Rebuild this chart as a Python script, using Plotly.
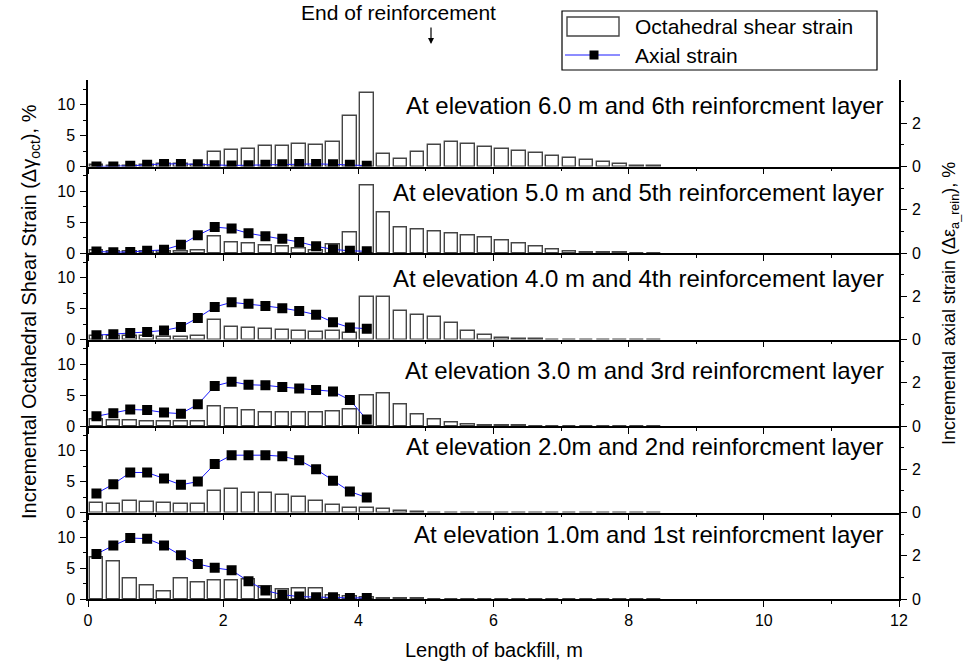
import plotly.graph_objects as go

# Bar positions along the backfill (m) and the reinforcement gauge positions
x_pos = [0.125, 0.375, 0.625, 0.875, 1.125, 1.375, 1.625, 1.875, 2.125, 2.375,
         2.625, 2.875, 3.125, 3.375, 3.625, 3.875, 4.125, 4.375, 4.625, 4.875,
         5.125, 5.375, 5.625, 5.875, 6.125, 6.375, 6.625, 6.875, 7.125, 7.375,
         7.625, 7.875, 8.125, 8.375]
x_axial = [0.125, 0.375, 0.625, 0.875, 1.125, 1.375, 1.625, 1.875, 2.125, 2.375,
           2.625, 2.875, 3.125, 3.375, 3.625, 3.875, 4.125]

# Incremental octahedral shear strain (%) per elevation
shear_6m = [0.2, 0.1, 0.15, 0.3, 0.4, 0.4, 0.3, 2.4, 2.7, 2.9, 3.35, 3.35, 3.6, 3.45, 4.0, 8.1,
            11.9, 2.05, 1.2, 2.3, 3.5, 4.0, 3.7, 3.2, 2.85, 2.55, 2.2, 1.75, 1.4, 1.1, 0.75, 0.45,
            0.15, 0.05]
shear_5m = [0.4, 0.2, 0.25, 0.3, 0.3, 0.3, 0.45, 2.6, 1.7, 1.5, 1.15, 1.05, 0.75, 0.35, 1.3, 3.25,
            10.9, 6.55, 4.05, 3.8, 3.5, 3.15, 2.8, 2.45, 2.0, 1.5, 1.0, 0.55, 0.3, 0.15, 0.05, 0.02,
            0.0, 0.0]
shear_4m = [0.6, 0.5, 0.5, 0.5, 0.45, 0.4, 0.6, 3.2, 2.1, 1.9, 1.7, 1.5, 1.3, 1.2, 1.3, 1.1,
            6.8, 6.8, 4.6, 4.0, 3.6, 2.6, 1.4, 0.8, 0.3, 0.1, 0.05, 0.0, 0.0, 0.0, 0.0, 0.0,
            0.0, 0.0]
shear_3m = [1.0, 0.85, 0.85, 0.75, 0.65, 0.65, 0.7, 3.2, 2.9, 2.5, 2.2, 2.15, 2.15, 2.15, 2.3, 2.65,
            5.0, 5.25, 3.4, 1.85, 1.0, 0.5, 0.2, 0.1, 0.05, 0.03, 0.0, 0.0, 0.0, 0.0, 0.0, 0.0,
            0.0, 0.0]
shear_2m = [1.5, 1.4, 1.85, 1.75, 1.5, 1.4, 1.35, 3.45, 3.85, 3.1, 3.1, 2.8, 2.45, 1.85, 1.25, 0.7,
            0.65, 0.55, 0.2, 0.05, 0.0, 0.0, 0.0, 0.0, 0.0, 0.0, 0.0, 0.0, 0.0, 0.0, 0.0, 0.0,
            0.0, 0.0]
shear_1m = [6.65, 6.1, 3.3, 2.2, 1.25, 3.25, 2.6, 3.0, 3.0, 3.2, 2.05, 1.5, 1.7, 1.7, 0.6, 0.4,
            0.3, 0.1, 0.05, 0.03, 0.0, 0.0, 0.0, 0.0, 0.0, 0.0, 0.0, 0.0, 0.0, 0.0, 0.0, 0.0,
            0.0, 0.0]

# Incremental axial strain in the reinforcement (%)
axial_6m = [0.0, 0.0, 0.03, 0.08, 0.12, 0.12, 0.1, 0.06, 0.05, 0.06, 0.08, 0.1, 0.12, 0.12, 0.1, 0.08, 0.04]
axial_5m = [0.07, 0.04, 0.05, 0.1, 0.15, 0.38, 0.82, 1.2, 1.13, 0.91, 0.77, 0.66, 0.51, 0.31, 0.17, 0.1, 0.08]
axial_4m = [0.2, 0.24, 0.3, 0.35, 0.42, 0.58, 1.0, 1.5, 1.72, 1.65, 1.55, 1.45, 1.32, 1.15, 0.8, 0.55, 0.5]
axial_3m = [0.45, 0.59, 0.76, 0.74, 0.62, 0.57, 1.0, 1.85, 2.05, 1.91, 1.88, 1.8, 1.73, 1.67, 1.6, 1.2, 0.3]
axial_2m = [0.88, 1.31, 1.85, 1.85, 1.57, 1.28, 1.43, 2.24, 2.65, 2.65, 2.65, 2.6, 2.42, 2.0, 1.47, 0.97, 0.69]
axial_1m = [2.08, 2.47, 2.82, 2.79, 2.47, 2.02, 1.62, 1.44, 1.33, 0.82, 0.39, 0.2, 0.11, 0.08, 0.08, 0.05, 0.05]

panel_titles = [
    "At elevation 6.0 m and 6th reinforcment layer",
    "At elevation 5.0 m and 5th reinforcement layer",
    "At elevation 4.0 m and 4th reinforcement layer",
    "At elevation 3.0 m and 3rd reinforcment layer",
    "At elevation 2.0m and 2nd reinforcment layer",
    "At elevation 1.0m and 1st reinforcment layer",
]
shear_sets = [shear_6m, shear_5m, shear_4m, shear_3m, shear_2m, shear_1m]
axial_sets = [axial_6m, axial_5m, axial_4m, axial_3m, axial_2m, axial_1m]

x_ticks = [0, 2, 4, 6, 8, 10, 12]
x_minor = [1, 3, 5, 7, 9, 11]
left_ticks = [0, 5, 10]
left_minor = [2.5, 7.5, 12.5]
right_ticks = [0, 2]
right_minor = [1, 3]

# ---- page geometry (pixels) ----
W, H = 971, 668
ML, MR, MT, MB = 88, 72, 80, 69
PW, PH = W - ML - MR, H - MT - MB
FONT = "Liberation Sans, Arial, sans-serif"


def px(xp):
    return (xp - ML) / PW


def py(yp):
    return (H - MB - yp) / PH


label_y = [105, 192, 278, 370, 446, 534]

fig = go.Figure()
n = len(shear_sets)
layout = dict(
    width=W, height=H,
    margin=dict(l=ML, r=MR, t=MT, b=MB, pad=0),
    paper_bgcolor="white", plot_bgcolor="white",
    showlegend=False,
    font=dict(family=FONT, size=16, color="black"),
)
annotations = []
shapes = []

for k in range(n):
    xi = "x" if k == 0 else f"x{k + 1}"
    yi = "y" if k == 0 else f"y{k + 1}"
    yr = f"y{k + 1 + n}"
    xkey = "xaxis" if k == 0 else f"xaxis{k + 1}"
    ykey = "yaxis" if k == 0 else f"yaxis{k + 1}"
    yrkey = f"yaxis{k + 1 + n}"
    dom = [1 - (k + 1) / n, 1 - k / n]

    fig.add_trace(go.Bar(
        x=x_pos, y=shear_sets[k], width=0.2, xaxis=xi, yaxis=yi,
        marker=dict(color="white", line=dict(color="#454545", width=1.4)),
    ))
    fig.add_trace(go.Scatter(
        x=x_axial, y=axial_sets[k], xaxis=xi, yaxis=yr, mode="lines+markers",
        line=dict(color="#1a1aff", width=1),
        marker=dict(symbol="square", size=10, color="black", line=dict(width=0)),
        cliponaxis=True,
    ))

    layout[xkey] = dict(
        domain=[0, 1], anchor=yi, range=[0, 12],
        showline=True, linecolor="black", linewidth=1.5,
        ticks="outside", tickvals=x_ticks, ticklen=6, tickwidth=1.2, tickcolor="black",
        minor=dict(tickvals=x_minor, ticks="outside", ticklen=3, tickwidth=1.2, tickcolor="black"),
        showticklabels=(k == n - 1), showgrid=False, zeroline=False,
        tickfont=dict(size=16), fixedrange=True,
    )
    if k > 0:
        layout[xkey]["matches"] = "x"
    layout[ykey] = dict(
        domain=dom, anchor=xi, range=[0, 14],
        showline=True, linecolor="black", linewidth=1.5,
        ticks="outside", tickvals=left_ticks, ticklen=6, tickwidth=1.2, tickcolor="black",
        minor=dict(tickvals=left_minor, ticks="outside", ticklen=3, tickwidth=1.2, tickcolor="black"),
        showgrid=False, zeroline=False, tickfont=dict(size=16), ticklabelstandoff=2,
    )
    layout[yrkey] = dict(
        overlaying=yi, anchor=xi, side="right", range=[0, 4],
        showline=True, linecolor="black", linewidth=1.5,
        ticks="outside", tickvals=right_ticks, ticklen=6, tickwidth=1.2, tickcolor="black",
        minor=dict(tickvals=right_minor, ticks="outside", ticklen=3, tickwidth=1.2, tickcolor="black"),
        showgrid=False, zeroline=False, tickfont=dict(size=16), ticklabelstandoff=2,
    )
    annotations.append(dict(
        xref="paper", yref="paper", x=px(886), y=py(label_y[k]),
        xanchor="right", yanchor="middle", showarrow=False,
        text=panel_titles[k], font=dict(size=24),
    ))

# top border of the upper panel with inward ticks
layout[f"xaxis{2 * n + 1}"] = dict(
    overlaying="x", anchor="y", side="top", range=[0, 12],
    showline=True, linecolor="black", linewidth=1.5,
    ticks="inside", tickvals=x_ticks, ticklen=6, tickwidth=1.2, tickcolor="black",
    minor=dict(tickvals=x_minor, ticks="inside", ticklen=3, tickwidth=1.2, tickcolor="black"),
    showticklabels=False, showgrid=False, zeroline=False,
)

# axis titles
annotations += [
    dict(xref="paper", yref="paper", x=px(493.5), y=py(650), showarrow=False,
         text="Length of backfill, m", font=dict(size=20), xanchor="center", yanchor="middle"),
    dict(xref="paper", yref="paper", x=px(30), y=py(312), showarrow=False, textangle=-90,
         text="Incremental Octahedral Shear Strain (Δγ<sub>oct</sub>), %", font=dict(size=20),
         xanchor="center", yanchor="middle"),
    dict(xref="paper", yref="paper", x=px(950), y=py(303), showarrow=False, textangle=-90,
         text="Incremental axial strain (Δε<sub>a_rein</sub>), %", font=dict(size=18),
         xanchor="center", yanchor="middle"),
]

# end-of-reinforcement callout
annotations += [
    dict(xref="paper", yref="paper", x=px(398), y=py(13), showarrow=False,
         text="End of reinforcement", font=dict(size=21), xanchor="center", yanchor="middle"),
    dict(xref="paper", yref="paper", x=px(431), y=py(44), ax=0, ay=-18, text="",
         showarrow=True, arrowhead=2, arrowsize=1, arrowwidth=1.2, arrowcolor="black"),
]

# legend box
shapes += [
    dict(type="rect", xref="paper", yref="paper", x0=px(562), x1=px(877), y0=py(70), y1=py(11),
         line=dict(color="black", width=1.2), fillcolor="white"),
    dict(type="rect", xref="paper", yref="paper", x0=px(567), x1=px(619), y0=py(36), y1=py(17),
         line=dict(color="#454545", width=1.4), fillcolor="white"),
    dict(type="line", xref="paper", yref="paper", x0=px(565), x1=px(620), y0=py(55), y1=py(55),
         line=dict(color="#1a1aff", width=1)),
    dict(type="rect", xref="paper", yref="paper", x0=px(589.5), x1=px(598.5), y0=py(59.5), y1=py(50.5),
         line=dict(width=0), fillcolor="black"),
]
annotations += [
    dict(xref="paper", yref="paper", x=px(633), y=py(27), showarrow=False, xanchor="left",
         yanchor="middle", text="Octahedral shear strain", font=dict(size=21)),
    dict(xref="paper", yref="paper", x=px(633), y=py(55), showarrow=False, xanchor="left",
         yanchor="middle", text="Axial strain", font=dict(size=21)),
]

layout["annotations"] = annotations
layout["shapes"] = shapes
layout["bargap"] = 0
fig.update_layout(**layout)

fig.write_html("out.html")
